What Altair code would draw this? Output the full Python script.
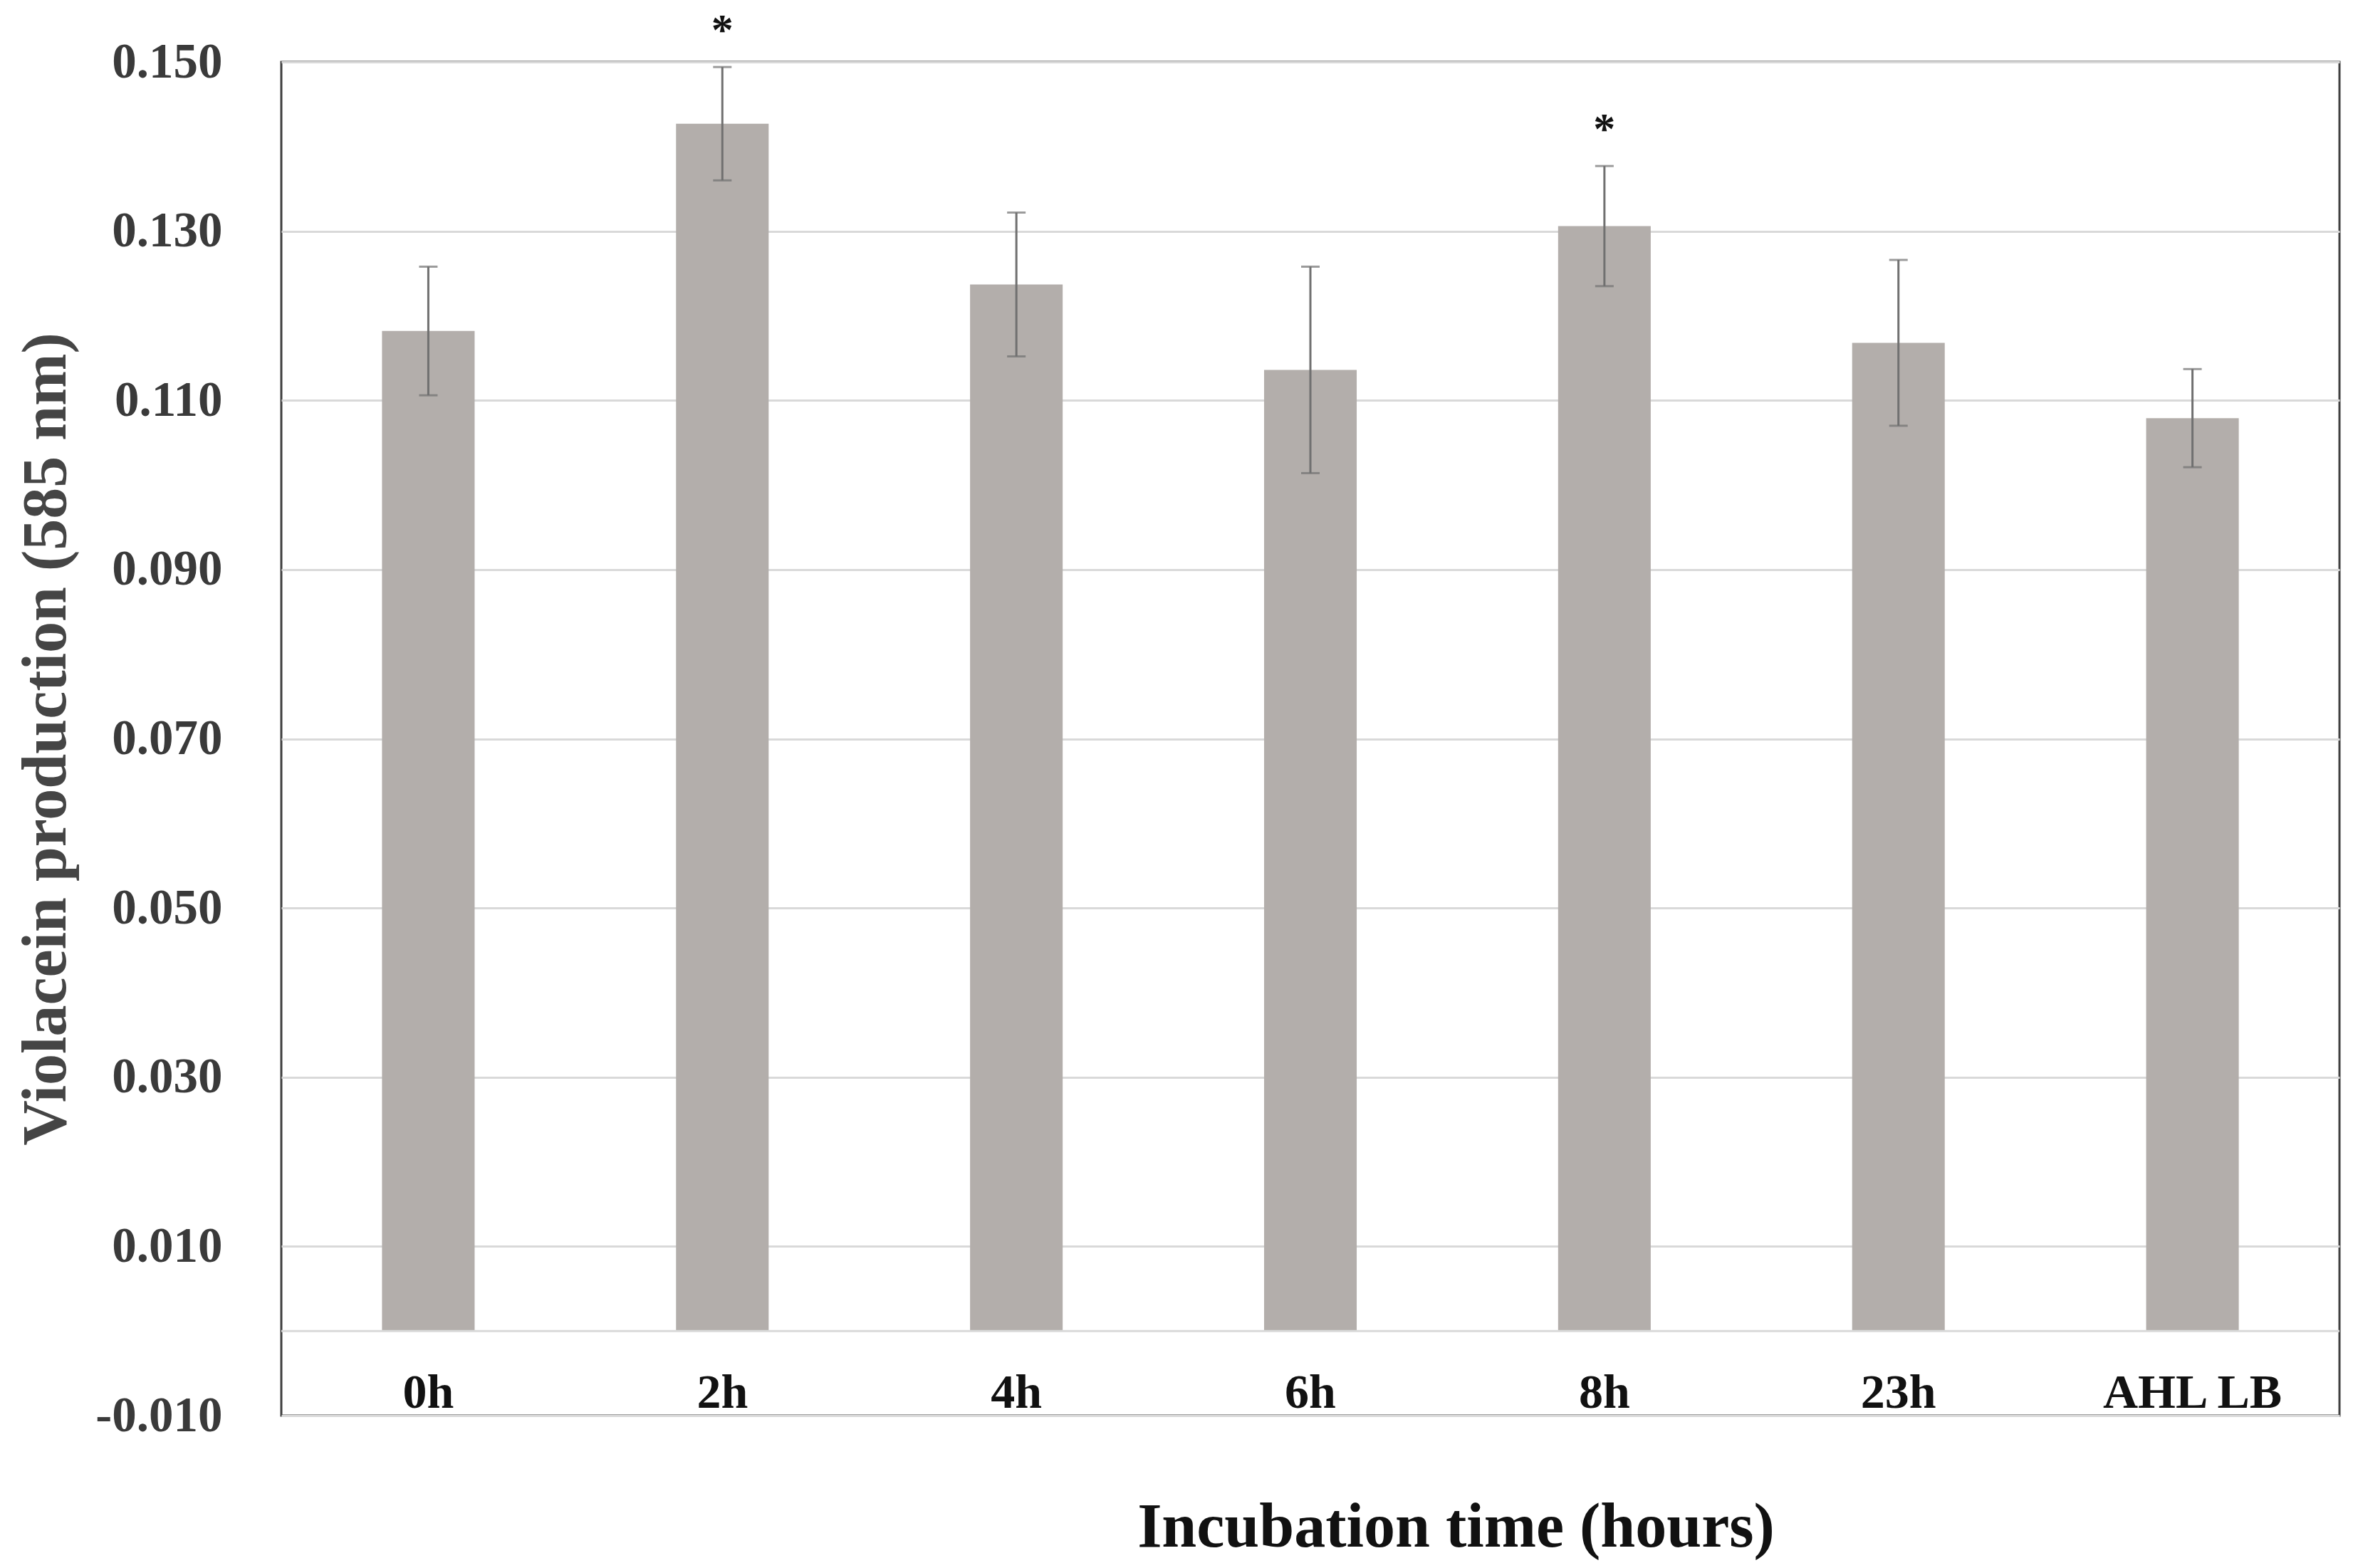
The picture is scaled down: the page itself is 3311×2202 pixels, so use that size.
import altair as alt
import pandas as pd

categories = ["0h", "2h", "4h", "6h", "8h", "23h", "AHL LB"]
values = [0.1182, 0.1427, 0.1237, 0.1136, 0.1306, 0.1168, 0.1079]
errors = [0.0076, 0.0067, 0.0085, 0.0122, 0.0071, 0.0098, 0.0058]
stars = ["", "*", "", "", "*", "", ""]
y_ticks = [-0.010, 0.010, 0.030, 0.050, 0.070, 0.090, 0.110, 0.130, 0.150]
zero_line = [0.0]

df = pd.DataFrame({
    "cat": categories,
    "v": values,
    "lo": [v - e for v, e in zip(values, errors)],
    "hi": [v + e for v, e in zip(values, errors)],
    "star": stars,
})
zdf = pd.DataFrame({"z": zero_line})

FONT = "Liberation Serif"

x_axis = alt.Axis(
    title="Incubation time (hours)",
    titleFont=FONT, titleFontSize=88, titleFontWeight="bold", titleColor="#111111",
    titleX=1649, titleY=183, titleBaseline="alphabetic",
    labelFont=FONT, labelFontSize=68, labelFontWeight="bold", labelColor="#111111",
    labelAngle=0, labelPadding=-12, labelBaseline="alphabetic", labelLimit=0,
    ticks=False, tickSize=0, domain=False, grid=False,
)
x_scale = alt.Scale(paddingInner=0, paddingOuter=0)

y_scale = alt.Scale(domain=[-0.010, 0.150], nice=False, zero=False)
y_axis = alt.Axis(
    title="Violacein production  (585 nm)",
    titleFont=FONT, titleFontSize=88, titleFontWeight="bold", titleColor="#454545",
    titleX=-330, titleBaseline="middle",
    values=y_ticks,
    labelExpr="datum.value < 0 ? '-' + format(-datum.value, '.3f') : format(datum.value, '.3f')",
    labelFont=FONT, labelFontSize=69, labelFontWeight="bold", labelColor="#3a3a3a",
    labelPadding=83, labelLimit=0, ticks=False, tickSize=0, domain=False,
    grid=True, gridColor="#d9d9d9", gridWidth=3,
)


def xe():
    return alt.X("cat:N", sort=categories, scale=x_scale, axis=x_axis)


def ye(field):
    return alt.Y(field, scale=y_scale, axis=y_axis)


bars = alt.Chart(df).mark_bar(color="#b3aeab", width=alt.RelativeBandSize(0.315)).encode(
    x=xe(),
    y=ye("v:Q"),
    y2=alt.datum(0),
)

zero = alt.Chart(zdf).mark_rule(color="#d9d9d9", strokeWidth=3).encode(
    y=ye("z:Q")
)

rules = alt.Chart(df).mark_rule(color="#707070", strokeWidth=3).encode(
    x=xe(),
    y=ye("lo:Q"),
    y2="hi:Q",
)

caps_hi = alt.Chart(df).mark_tick(color="#707070", thickness=3, size=26).encode(
    x=xe(),
    y=ye("hi:Q"),
)
caps_lo = alt.Chart(df).mark_tick(color="#707070", thickness=3, size=26).encode(
    x=xe(),
    y=ye("lo:Q"),
)

star_text = alt.Chart(df).mark_text(
    font=FONT, fontSize=62, fontWeight="bold", color="#111111",
    baseline="alphabetic", dy=-32,
).encode(
    x=xe(),
    y=ye("hi:Q"),
    text="star:N",
)

chart = alt.layer(bars, zero, rules, caps_hi, caps_lo, star_text).properties(
    width=2890,
    height=1901,
    autosize="none",
    padding={"left": 387, "top": 79, "right": 10, "bottom": 206},
    background="white",
).configure_view(
    stroke="#404040", strokeWidth=3
)

chart.save("out.html", embed_options={"renderer": "svg", "actions": False})
